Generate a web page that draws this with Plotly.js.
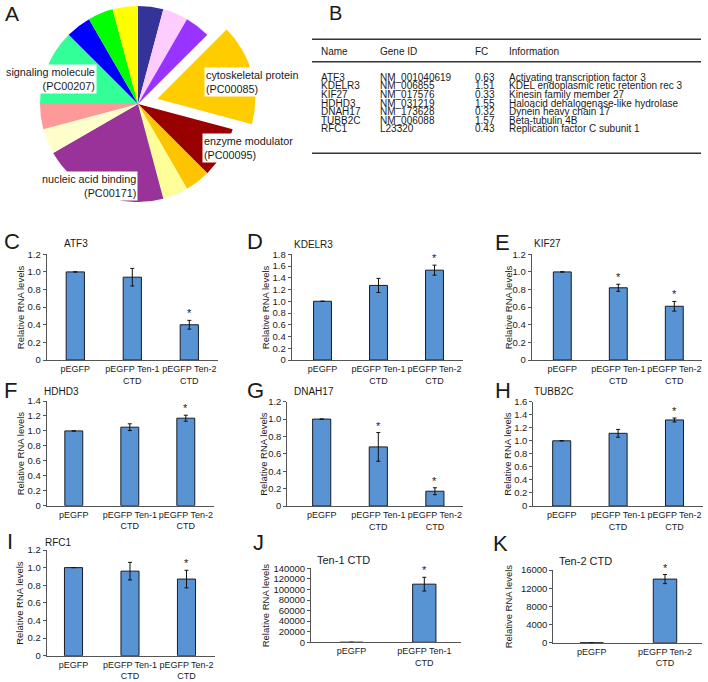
<!DOCTYPE html>
<html>
<head>
<meta charset="utf-8">
<script src="https://cdn.plot.ly/plotly-3.0.1.min.js"></script>
<style>
	body { margin: 0; background: #fff; }
	#chart { width: 708px; height: 682px; }
</style>
</head>
<body>
<div id="chart"></div>
<script>
// ---- panel A: protein classes, clockwise from 12 o'clock ----
const classLabels = [
	"class 1", "class 2", "class 3",
	"cytoskeletal protein (PC00085)",
	"enzyme modulator (PC00095)",
	"class 4", "class 5",
	"nucleic acid binding (PC00171)",
	"class 6", "class 7",
	"signaling molecule (PC00207)",
	"class 8", "class 9", "class 10"
];
const classCounts = [1, 1, 1, 4, 2, 1, 1, 5, 1, 1, 3, 1, 1, 1];
const classColors = [
	"#333399", "#ffccff", "#9933ff", "#ffcc00", "#990000", "#ffc400", "#ffff99",
	"#993399", "#ffffcc", "#ff9999", "#33ff99", "#0000ff", "#00ff00", "#ffff00"
];
const pulledClass = 3;

// ---- panel B: table ----
const tableHeader = ["Name", "Gene ID", "FC", "Information"];
const geneNames = ["ATF3", "KDELR3", "KIF27", "HDHD3", "DNAH17", "TUBB2C", "RFC1"];
const geneIds = ["NM_001040619", "NM_006855", "NM_017576", "NM_031219", "NM_173628", "NM_006088", "L23320"];
const foldChanges = ["0.63", "1.51", "0.33", "1.55", "0.32", "1.57", "0.43"];
const geneInfo = [
	"Activating transcription factor 3",
	"KDEL endoplasmic retic retention rec 3",
	"Kinesin family member 27",
	"Haloacid dehalogenase-like hydrolase",
	"Dynein heavy chain 17",
	"Beta-tubulin 4B",
	"Replication factor C subunit 1"
];

// ---- panels C-K: qPCR ----
const groups3 = ["pEGFP", "pEGFP Ten-1 CTD", "pEGFP Ten-2 CTD"];
const groupsJ = ["pEGFP", "pEGFP Ten-1 CTD"];
const groupsK = ["pEGFP", "pEGFP Ten-2 CTD"];

const atf3 = [1, 0.94, 0.40], atf3Err = [0, 0.10, 0.05], atf3Sig = [0, 0, 1];
const kdelr3 = [1, 1.27, 1.53], kdelr3Err = [0, 0.12, 0.085], kdelr3Sig = [0, 0, 1];
const kif27 = [1, 0.82, 0.61], kif27Err = [0, 0.04, 0.055], kif27Sig = [0, 1, 1];
const hdhd3 = [1, 1.05, 1.17], hdhd3Err = [0, 0.045, 0.04], hdhd3Sig = [0, 0, 1];
const dnah17 = [1, 0.68, 0.17], dnah17Err = [0, 0.165, 0.04], dnah17Sig = [0, 1, 1];
const tubb2c = [1, 1.115, 1.32], tubb2cErr = [0, 0.06, 0.03], tubb2cSig = [0, 0, 1];
const rfc1 = [1, 0.96, 0.87], rfc1Err = [0, 0.10, 0.10], rfc1Sig = [0, 0, 1];
const ten1 = [1, 110000], ten1Err = [0, 13000], ten1Sig = [0, 1];
const ten2 = [1, 14000], ten2Err = [0, 1000], ten2Sig = [0, 1];

const W = 708, H = 682;
const FONT = "Liberation Sans, Arial, sans-serif";
const INK = "#1a1a1a";
const px = x => x / W;
const py = y => 1 - y / H;

// ax = y axis line x, top/base = y of ymax / 0, c1 = first bar centre, step = category spacing (all px)
const panels = [
	{ tag: "C", title: "ATF3", cats: groups3, y: atf3, err: atf3Err, sig: atf3Sig, ymax: 1.2, dtick: 0.2,
		ax: 46.7, top: 254.3, base: 360, c1: 75.3, step: 57, letter: [2, 241.7], head: [62, 243], ytl: 20 },
	{ tag: "D", title: "KDELR3", cats: groups3, y: kdelr3, err: kdelr3Err, sig: kdelr3Sig, ymax: 1.8, dtick: 0.2,
		ax: 291.7, top: 254.3, base: 360, c1: 322.5, step: 56, letter: [245, 241], head: [291.7, 244], ytl: 265 },
	{ tag: "E", title: "KIF27", cats: groups3, y: kif27, err: kif27Err, sig: kif27Sig, ymax: 1.2, dtick: 0.2,
		ax: 531.7, top: 254.3, base: 360, c1: 562.3, step: 56, letter: [493, 242.5], head: [531.7, 243.5], ytl: 508 },
	{ tag: "F", title: "HDHD3", cats: groups3, y: hdhd3, err: hdhd3Err, sig: hdhd3Sig, ymax: 1.4, dtick: 0.2,
		ax: 46.7, top: 401, base: 505.7, c1: 73.8, step: 56, letter: [2, 390], head: [41.7, 391], ytl: 20 },
	{ tag: "G", title: "DNAH17", cats: groups3, y: dnah17, err: dnah17Err, sig: dnah17Sig, ymax: 1.2, dtick: 0.2,
		ax: 287.3, top: 401.7, base: 506, c1: 321.7, step: 56.6, letter: [245, 390], head: [291.7, 391], ytl: 264 },
	{ tag: "H", title: "TUBB2C", cats: groups3, y: tubb2c, err: tubb2cErr, sig: tubb2cSig, ymax: 1.6, dtick: 0.2,
		ax: 533.3, top: 401.7, base: 506, c1: 561.7, step: 56.4, letter: [493, 390], head: [531.7, 391], ytl: 508 },
	{ tag: "I", title: "RFC1", cats: groups3, y: rfc1, err: rfc1Err, sig: rfc1Sig, ymax: 1.2, dtick: 0.2,
		ax: 46.7, top: 550, base: 655.7, c1: 73.5, step: 56.5, letter: [5, 541.5], head: [43, 542], ytl: 20 },
	{ tag: "J", title: "Ten-1 CTD", cats: groupsJ, y: ten1, err: ten1Err, sig: ten1Sig, ymax: 140000, dtick: 20000,
		ax: 311, top: 568.3, base: 642.3, c1: 351.5, step: 72.8, letter: [251, 542.5], head: [315, 560], ytl: 265 },
	{ tag: "K", title: "Ten-2 CTD", cats: groupsK, y: ten2, err: ten2Err, sig: ten2Sig, ymax: 16000, dtick: 4000,
		ax: 553.3, top: 570, base: 642.7, c1: 591.7, step: 73.3, letter: [491, 543], head: [556.7, 561], ytl: 508 }
];

const traces = [];
const annotations = [];
const shapes = [];
const layout = {
	width: W,
	height: H,
	margin: { l: 0, r: 0, t: 0, b: 0, pad: 0 },
	paper_bgcolor: "#fff",
	plot_bgcolor: "rgba(0,0,0,0)",
	showlegend: false,
	font: { family: FONT, size: 9.5, color: INK },
	annotations: annotations,
	shapes: shapes
};

function note(x, y, text, opts) {
	annotations.push(Object.assign({
		xref: "paper", yref: "paper", x: px(x), y: py(y), text: text,
		showarrow: false, xanchor: "left", yanchor: "middle",
		font: { family: FONT, size: 9.5, color: INK }
	}, opts || {}));
}

// ---- A: pie, pulled slice drawn as a shifted copy ----
const pieR = 98, pieC = [138, 104];
const pullShift = [19.3, -5.2];
function pieDomain(cx, cy) {
	return { x: [px(cx - pieR), px(cx + pieR)], y: [py(cy + pieR), py(cy - pieR)] };
}
traces.push({
	type: "pie", labels: classLabels, values: classCounts, sort: false,
	direction: "clockwise", rotation: 0, textinfo: "none", hoverinfo: "label",
	marker: { colors: classColors.map((c, i) => i === pulledClass ? "rgba(0,0,0,0)" : c), line: { width: 0 } },
	domain: pieDomain(pieC[0], pieC[1])
});
traces.push({
	type: "pie", labels: classLabels, values: classCounts, sort: false,
	direction: "clockwise", rotation: 0, textinfo: "none", hoverinfo: "label",
	marker: { colors: classColors.map((c, i) => i === pulledClass ? c : "rgba(0,0,0,0)"), line: { width: 0 } },
	domain: pieDomain(pieC[0] + pullShift[0], pieC[1] + pullShift[1])
});

const pieNotes = [
	{ label: classLabels[10], x: 97, y: 79, side: "right" },
	{ label: classLabels[3], x: 204, y: 81.7, side: "left" },
	{ label: classLabels[4], x: 201.7, y: 147.5, side: "left" },
	{ label: classLabels[7], x: 138.3, y: 186.3, side: "right" }
];
pieNotes.forEach(n => {
	note(n.x, n.y, n.label.replace(" (", "<br>("), {
		xanchor: n.side, align: n.side, bgcolor: "#fff", borderpad: 1,
		font: { family: FONT, size: 10.8, color: INK }
	});
});
note(3, 13.5, "A", { font: { family: FONT, size: 21, color: INK } });

// ---- B: table ----
note(327, 13.5, "B", { font: { family: FONT, size: 20, color: INK } });
const colX = [319, 378, 473, 507];
const rowY0 = 77.3, rowStep = 8.57;
tableHeader.forEach((h, j) => note(colX[j], 51.7, h, { font: { family: FONT, size: 10, color: INK } }));
[geneNames, geneIds, foldChanges, geneInfo].forEach((col, j) => {
	col.forEach((v, i) => note(colX[j], rowY0 + i * rowStep, v, { font: { family: FONT, size: 10, color: INK } }));
});
[39.3, 61.7, 153.3].forEach(y => {
	shapes.push({ type: "line", xref: "paper", yref: "paper", x0: px(312), x1: px(701), y0: py(y), y1: py(y),
		line: { color: "#333", width: 1.5 } });
});

// ---- C-K: bar panels ----
panels.forEach((p, k) => {
	const n = k === 0 ? "" : String(k + 1);
	const xa = "x" + n, ya = "y" + n;
	const xmin = -(p.c1 - p.ax) / p.step;
	const xmax = p.cats.length - 0.5;
	const right = p.ax + (xmax - xmin) * p.step;

	traces.push({
		type: "bar", x: p.cats, y: p.y, xaxis: xa, yaxis: ya, width: 0.32,
		marker: { color: "#5893d4", line: { color: "#1b1b2a", width: 1 } },
		error_y: { type: "data", array: p.err, visible: true, color: "#111", thickness: 1, width: 2 },
		hoverinfo: "x+y"
	});

	const ticks = [];
	for (let v = 0; v <= p.ymax + p.dtick / 2; v += p.dtick) ticks.push(+v.toFixed(6));
	const tickText = ticks.map(v => p.ymax > 100 ? String(v) : (v === 0 ? "0" : v.toFixed(1)));

	layout["xaxis" + n] = {
		domain: [px(p.ax), px(right)], anchor: ya, type: "category",
		range: [xmin, xmax], showline: true, linecolor: "#555", linewidth: 1,
		ticks: "", showgrid: false, zeroline: false, tickangle: 0,
		tickvals: p.cats, ticktext: p.cats.map(c => c.replace(" CTD", "<br>CTD")),
		tickfont: { family: FONT, size: 9, color: INK }
	};
	layout["yaxis" + n] = {
		domain: [py(p.base), py(p.top)], anchor: xa, range: [0, p.ymax],
		showline: true, linecolor: "#555", linewidth: 1, ticks: "outside", ticklen: 3,
		tickcolor: "#555", showgrid: false, zeroline: false,
		tickvals: ticks, ticktext: tickText,
		tickfont: { family: FONT, size: 9.5, color: INK }
	};

	p.sig.forEach((s, j) => {
		if (!s) return;
		annotations.push({
			xref: xa, yref: ya, x: p.cats[j], y: p.y[j] + p.err[j], text: "*",
			showarrow: false, yanchor: "bottom", yshift: -1,
			font: { family: FONT, size: 11, color: INK }
		});
	});

	note(p.letter[0], p.letter[1], p.tag, { font: { family: FONT, size: 22, color: INK } });
	note(p.head[0], p.head[1], p.title, { font: { family: FONT, size: p.ymax > 100 ? 11 : 10, color: INK } });
	note(p.ytl, (p.top + p.base) / 2, "Relative RNA levels", { xanchor: "center", textangle: -90 });
});

Plotly.newPlot("chart", traces, layout, { staticPlot: true });
</script>
</body>
</html>
